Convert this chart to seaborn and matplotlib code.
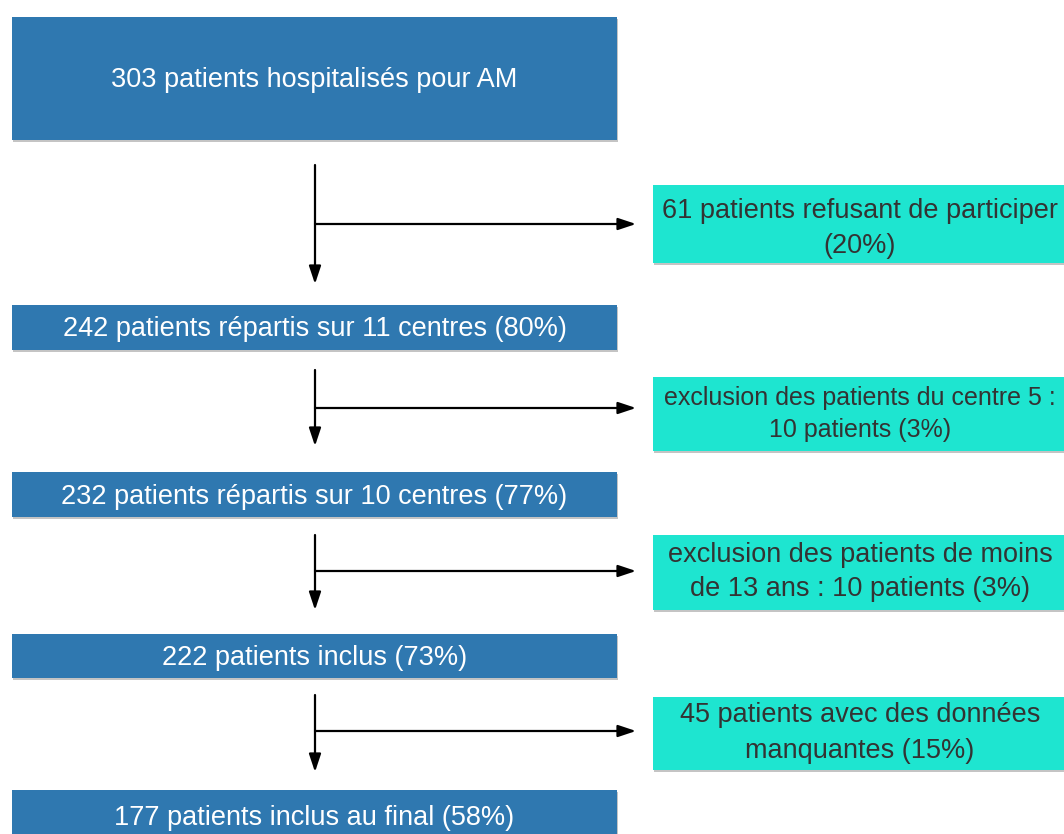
"""
Flowchart of patient inclusion (AM study).
"""

import matplotlib.pyplot as plt
import seaborn as sns
from matplotlib.patches import Rectangle

sns.set_theme(style="white")
plt.rcParams['font.family'] = ['Liberation Sans', 'DejaVu Sans']

# Flow data
main_counts = [303, 242, 232, 222, 177]
main_labels = [
    "303 patients hospitalisés pour AM",
    "242 patients répartis sur 11 centres (80%)",
    "232 patients répartis sur 10 centres (77%)",
    "222 patients inclus (73%)",
    "177 patients inclus au final (58%)",
]
excl_labels = [
    "61 patients refusant de participer\n(20%)",
    "exclusion des patients du centre 5 :\n10 patients (3%)",
    "exclusion des patients de moins\nde 13 ans : 10 patients (3%)",
    "45 patients avec des données\nmanquantes (15%)",
]

BLUE = "#2f78b0"
TEAL = "#1ee5d0"
SHADOW = "#c4c4c4"

# Layout (pixel coordinates, y pointing down)
main_boxes = [(17, 140), (305, 350), (472, 517), (634, 678), (790, 850)]
main_text_y = [80, 329, 497, 658, 818]
excl_boxes = [(185, 263), (377, 451), (535, 610), (697, 770)]
excl_text_y = [228, 414, 572, 733]
excl_sizes = [19.5, 18, 19.5, 19.5]
arrows = [(165, 284, 224), (370, 446, 408), (535, 610, 571), (695, 772, 731)]
box_x0, box_x1 = 12, 617
excl_x0, excl_x1 = 653, 1080
stem_x = 315
excl_text_x = 860

fig = plt.figure(figsize=(10.64, 8.34), dpi=100)
ax = fig.add_axes([0, 0, 1, 1])
ax.set_xlim(0, 1064)
ax.set_ylim(834, 0)
ax.axis('off')


def draw_box(ax, x0, x1, y0, y1, color):
    ax.add_patch(Rectangle((x0 + 1, y0 + 2), x1 - x0, y1 - y0,
                           facecolor=SHADOW, edgecolor='none', zorder=1))
    ax.add_patch(Rectangle((x0, y0), x1 - x0, y1 - y0,
                           facecolor=color, edgecolor='none', zorder=2))


for (y0, y1), ty, label in zip(main_boxes, main_text_y, main_labels):
    draw_box(ax, box_x0, box_x1, y0, y1, BLUE)
    ax.text((box_x0 + box_x1) / 2, ty, label, color='white', fontsize=19.5,
            ha='center', va='center', zorder=3)

for (y0, y1), ty, size, label in zip(excl_boxes, excl_text_y, excl_sizes,
                                     excl_labels):
    draw_box(ax, excl_x0, excl_x1, y0, y1, TEAL)
    ax.text(excl_text_x, ty, label, color='#333333', fontsize=size,
            ha='center', va='center', linespacing=1.45, zorder=3)

arrow_kw = dict(arrowstyle='-|>,head_length=0.9,head_width=0.3',
                color='black', lw=1.6, shrinkA=0, shrinkB=0)
for y_top, y_bot, y_branch in arrows:
    ax.annotate('', xy=(stem_x, y_bot), xytext=(stem_x, y_top),
                arrowprops=arrow_kw)
    ax.annotate('', xy=(636, y_branch), xytext=(stem_x, y_branch),
                arrowprops=arrow_kw)

plt.savefig('out.png', dpi=100)
